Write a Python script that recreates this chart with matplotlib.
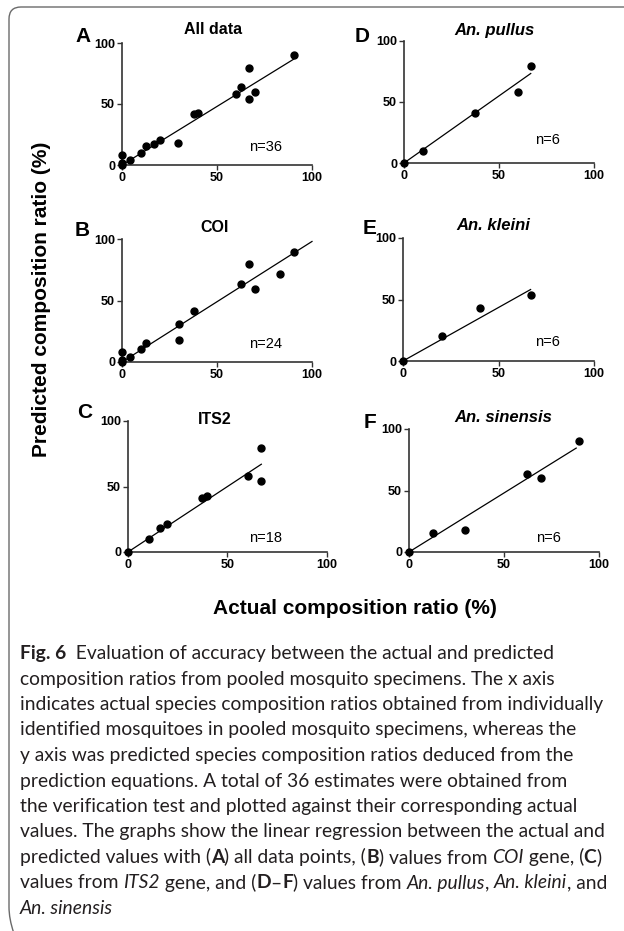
import numpy as np
import matplotlib
matplotlib.use('Agg')
import matplotlib.pyplot as plt
from matplotlib.path import Path
from matplotlib.patches import PathPatch
from matplotlib.font_manager import FontProperties

W, H = 624, 931

# ---------------- data ----------------
panel_letters = ['A', 'B', 'C', 'D', 'E', 'F']
panel_titles = ['All data', 'COI', 'ITS2', 'An. pullus', 'An. kleini', 'An. sinensis']
title_italic = [False, False, False, True, True, True]
n_labels = ['n=36', 'n=24', 'n=18', 'n=6', 'n=6', 'n=6']

all_x = [0, 0, 0, 4.4, 10.2, 12.6, 17, 20.2, 29.3, 37.7, 40, 60.2, 62.6, 67, 67, 70.2, 90.4]
all_y = [0, 2, 8.2, 4.1, 9.6, 15.6, 17.5, 20.5, 18, 41.4, 42.5, 58, 63.6, 79.2, 54, 60, 90.1]

coi_x = [0, 0, 0, 4.4, 10.2, 12.6, 29.8, 30.2, 37.7, 62.6, 67, 70.2, 83.3, 90.4]
coi_y = [0, 2, 8, 4, 10.6, 15.4, 18.2, 30.6, 41.2, 63.1, 80, 59.6, 71.8, 89.7]

its_x = [0, 10.4, 16.2, 19.6, 37.2, 39.7, 60.1, 66.8, 66.8]
its_y = [0, 10.3, 18, 21.1, 41.5, 42.8, 58, 79.4, 54.1]

pullus_x = [0, 10, 37.5, 60, 66.7]
pullus_y = [0, 9.8, 41.3, 57.9, 79.2]

kleini_x = [0, 20.4, 40.3, 66.8]
kleini_y = [0, 20.4, 42.7, 53.5]

sinensis_x = [0, 12.6, 29.3, 62.1, 69.6, 89.5]
sinensis_y = [0, 15.6, 18, 63.6, 60, 90]

# regression lines (slope, intercept, last x) as drawn
fit_slope = [0.96, 0.98, 1.0, 1.1, 0.87, 0.96]
fit_icpt = [0, 0, 0, 0, 0, 0]
fit_xmax = [90.4, 100, 67, 66.7, 66.8, 88]

ticks = [0, 50, 100]

caption_lines = [
    [('Fig. 6', 'b'), ('  Evaluation of accuracy between the actual and predicted', 'n')],
    [('composition ratios from pooled mosquito specimens. The x axis', 'n')],
    [('indicates actual species composition ratios obtained from individually', 'n')],
    [('identified mosquitoes in pooled mosquito specimens, whereas the', 'n')],
    [('y axis was predicted species composition ratios deduced from the', 'n')],
    [('prediction equations. A total of 36 estimates were obtained from', 'n')],
    [('the verification test and plotted against their corresponding actual', 'n')],
    [('values. The graphs show the linear regression between the actual and', 'n')],
    [('predicted values with (', 'n'), ('A', 'b'), (') all data points, (', 'n'), ('B', 'b'),
     (') values from ', 'n'), ('COI', 'i'), (' gene, (', 'n'), ('C', 'b'), (')', 'n')],
    [('values from ', 'n'), ('ITS2', 'i'), (' gene, and (', 'n'), ('D', 'b'), ('\u2013', 'n'),
     ('F', 'b'), (') values from ', 'n'), ('An. pullus', 'i'), (', ', 'n'),
     ('An. kleini', 'i'), (', and', 'n')],
    [('An. sinensis', 'i')],
]

panel_data = [(all_x, all_y), (coi_x, coi_y), (its_x, its_y),
              (pullus_x, pullus_y), (kleini_x, kleini_y), (sinensis_x, sinensis_y)]

# ---------------- layout (pixels) ----------------
# left, right, top(y=100), bottom(y=0)
boxes = [(122, 312, 43, 165), (122, 312, 239, 362), (128, 327, 421, 552),
         (404, 594, 41, 163), (403, 594, 238, 361), (409, 599, 429, 552)]
letter_pos = [(83, 36), (82, 230), (85, 413), (362, 36), (370, 229), (370, 422)]
title_pos = [(213, 29), (215, 228), (215, 420), (494, 30), (493, 225), (503, 418)]
n_pos = [(266, 147), (266, 344), (266, 538), (547, 140), (547, 342), (548, 538)]

sans = 'Liberation Sans'
cap_font = 'Lato'
cap_size = 13.9
cap_x0, cap_y0, cap_dy = 20, 659, 25.5

fig = plt.figure(figsize=(W / 100, H / 100), dpi=100)

bg = fig.add_axes([0, 0, 1, 1])
bg.set_xlim(0, W)
bg.set_ylim(H, 0)
bg.axis('off')
bg.set_zorder(-1)

# rounded frame on top and left
r = 12
verts = [(W + 5, 7), (9 + r, 7), (9, 7), (9, 7 + r), (9, H - 12 - r), (9, H - 12), (9 + r * 0.4, H + 2)]
codes = [Path.MOVETO, Path.LINETO, Path.CURVE3, Path.CURVE3, Path.LINETO, Path.CURVE3, Path.CURVE3]
bg.add_patch(PathPatch(Path(verts, codes), fill=False, ec='#6a6a6a', lw=1.0))

for i in range(6):
    l, rr, t, b = boxes[i]
    ax = fig.add_axes([l / W, 1 - b / H, (rr - l) / W, (b - t) / H])
    xs, ys = panel_data[i]
    ax.plot(xs, ys, 'o', color='black', ms=5.0, clip_on=False, zorder=3)
    xl = np.array([0, fit_xmax[i]])
    ax.plot(xl, fit_slope[i] * xl + fit_icpt[i], color='black', lw=0.9, clip_on=False)
    ax.set_xlim(0, 100)
    ax.set_ylim(0, 100)
    ax.set_xticks(ticks)
    ax.set_yticks(ticks)
    for s in ['top', 'right']:
        ax.spines[s].set_visible(False)
    for s in ['left', 'bottom']:
        ax.spines[s].set_linewidth(1.2)
        ax.spines[s].set_color('#333333')
    ax.tick_params(direction='out', length=3.5, width=1.0, color='#333333', pad=1.5)
    for lab in ax.get_xticklabels() + ax.get_yticklabels():
        lab.set_fontfamily(sans)
        lab.set_fontweight('bold')
        lab.set_fontsize(9)
    ax.patch.set_alpha(0)

    bg.text(*letter_pos[i], panel_letters[i], family=sans, weight='bold', size=15,
            ha='center', va='center')
    bg.text(*title_pos[i], panel_titles[i], family=sans, weight='bold',
            size=12 if title_italic[i] else 11.5,
            style='italic' if title_italic[i] else 'normal', ha='center', va='center')
    bg.text(*n_pos[i], n_labels[i], family=sans, size=10.5, ha='center', va='center')

bg.text(355, 609, 'Actual composition ratio (%)', family=sans, weight='bold', size=15,
        ha='center', va='center')
bg.text(42, 299, 'Predicted composition ratio (%)', family=sans, weight='bold', size=15,
        ha='center', va='center', rotation=90)

# caption with mixed bold / italic runs
renderer = fig.canvas.get_renderer()


def seg_props(style):
    return FontProperties(family=cap_font, size=cap_size,
                          weight='bold' if style == 'b' else 'normal',
                          style='italic' if style == 'i' else 'normal')


def seg_width(txt, fp):
    w1 = renderer.get_text_width_height_descent(txt + '|', fp, ismath=False)[0]
    w2 = renderer.get_text_width_height_descent('|', fp, ismath=False)[0]
    return w1 - w2


for k, segs in enumerate(caption_lines):
    x = cap_x0
    y = cap_y0 + k * cap_dy
    for txt, style in segs:
        fp = seg_props(style)
        bg.text(x, y, txt, fontproperties=fp, va='baseline', ha='left', color='#231f20')
        x += seg_width(txt, fp)

fig.savefig('out.png', dpi=100)
